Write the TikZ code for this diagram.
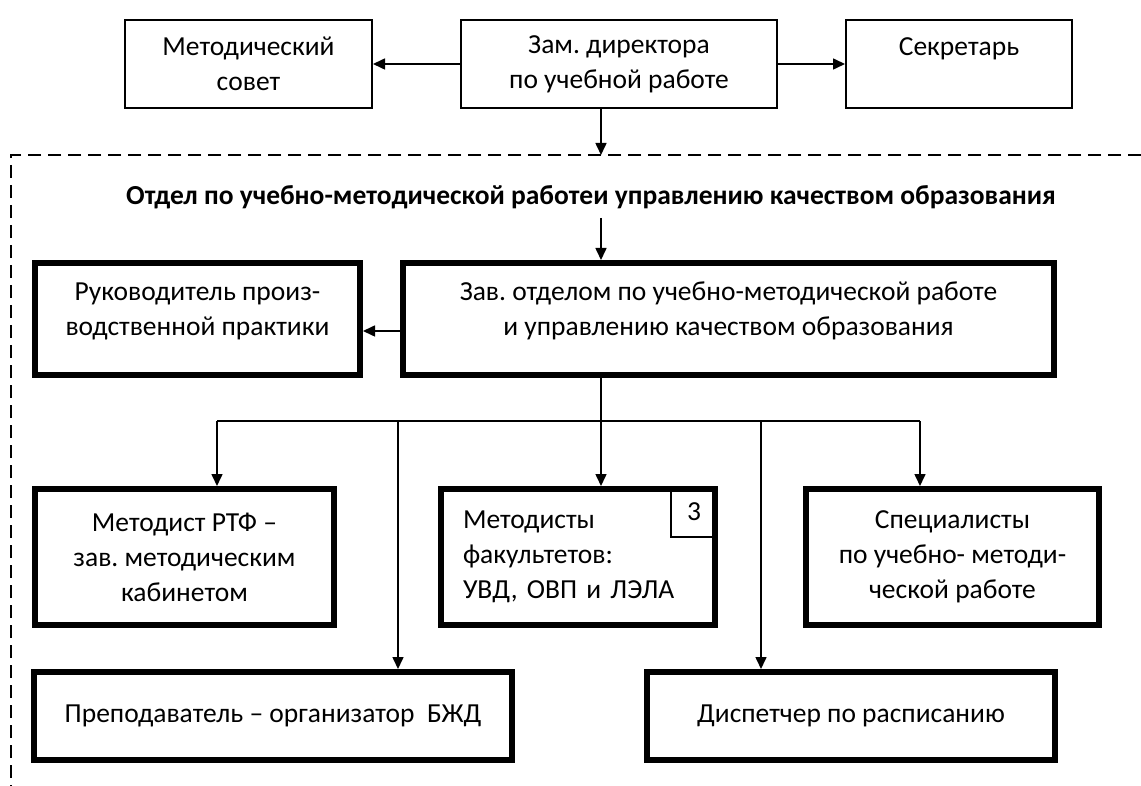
\documentclass[tikz,border=0pt]{standalone}
\usepackage{fontspec}
\setmainfont{Carlito}
\usetikzlibrary{arrows.meta}
\frenchspacing

\begin{document}
\begin{tikzpicture}[x=1pt, y=-1pt, >={Triangle[length=12pt, width=11pt]},
    box/.style={draw, line width=2pt, align=center, inner sep=0pt, font=\fontsize{27.5}{35}\selectfont},
    boldbox/.style={box, line width=6pt},
    raised/.style={text depth=20pt},
    link/.style={->, line width=1.6pt},
    bus/.style={line width=1.3pt}]

    \useasboundingbox (0,0) rectangle (1141,786);

    % top row
    \node[box, minimum width=247pt, minimum height=88pt] (sovet) at (248.5,64) {Методический\\совет};
    \node[box, minimum width=316pt, minimum height=88pt] (zam) at (619,64) {Зам. директора\\по учебной работе};
    \node[box, minimum width=226pt, minimum height=88pt] (sekr) at (959,64) {Секретарь\\\phantom{с}};

    % dashed frame of the department
    \coordinate (ftl) at (11,155);
    \coordinate (ftr) at (1141,155);
    \coordinate (fbl) at (11,786);
    \draw[line width=1.3pt, dash pattern=on 13pt off 7pt] (ftr) -- (ftl) -- (fbl);

    \coordinate (spine) at (601,0);
    \node[font=\fontsize{27.5}{35}\selectfont\bfseries, inner sep=9pt] (title) at (591,197)
        {Отдел по учебно-методической работеи управлению качеством образования};

    % second row
    \node[boldbox, raised, minimum width=651pt, minimum height=112pt] (zav) at (728.5,319)
        {Зав. отделом по учебно-методической работе\\и управлению качеством образования};
    \node[boldbox, raised, minimum width=325pt, minimum height=112pt] (ruk) at (197.5,319)
        {Руководитель произ-\\водственной практики};

    % third row
    \node[boldbox, minimum width=299pt, minimum height=136pt] (mrtf) at (184.5,557)
        {Методист РТФ –\\зав. методическим\\кабинетом};
    \node[boldbox, minimum width=274pt, minimum height=136pt, align=left, text width=230pt] (mfak) at (578,557)
        {Методисты\\факультетов:\\УВД, ОВП и ЛЭЛА};
    \node[box, minimum width=46pt, minimum height=50pt, anchor=north east] (num) at (mfak.north east) {3};
    \node[boldbox, minimum width=293pt, minimum height=136pt] (spec) at (952.5,557)
        {Специалисты\\по учебно- методи-\\ческой работе};

    % bottom row
    \node[boldbox, minimum width=478pt, minimum height=88pt] (prep) at (273,716)
        {Преподаватель – организатор\ \ БЖД};
    \node[boldbox, minimum width=408pt, minimum height=88pt] (disp) at (851,716)
        {Диспетчер по расписанию};

    % connectors
    \draw[link] (zam) -- (sovet);
    \draw[link] (zam) -- (sekr);
    \draw[link] (zam.south -| spine) -- (spine |- ftl);
    \draw[link] (title.south -| spine) -- (zav.north -| spine);
    \draw[link] ([yshift=-12pt]zav.west) -- ([yshift=-12pt]ruk.east);

    \coordinate (b1) at (217,421);
    \coordinate (b2) at (398,421);
    \coordinate (b3) at (601,421);
    \coordinate (b4) at (761,421);
    \coordinate (b5) at (920,421);
    \draw[bus] (zav.south -| spine) -- (b3);
    \draw[bus] (b1) -- (b5);
    \draw[link] (b1) -- (b1 |- mrtf.north);
    \draw[link] (b3) -- (b3 |- mfak.north);
    \draw[link] (b5) -- (b5 |- spec.north);
    \draw[link] (b2) -- (b2 |- prep.north);
    \draw[link] (b4) -- (b4 |- disp.north);
\end{tikzpicture}
\end{document}
